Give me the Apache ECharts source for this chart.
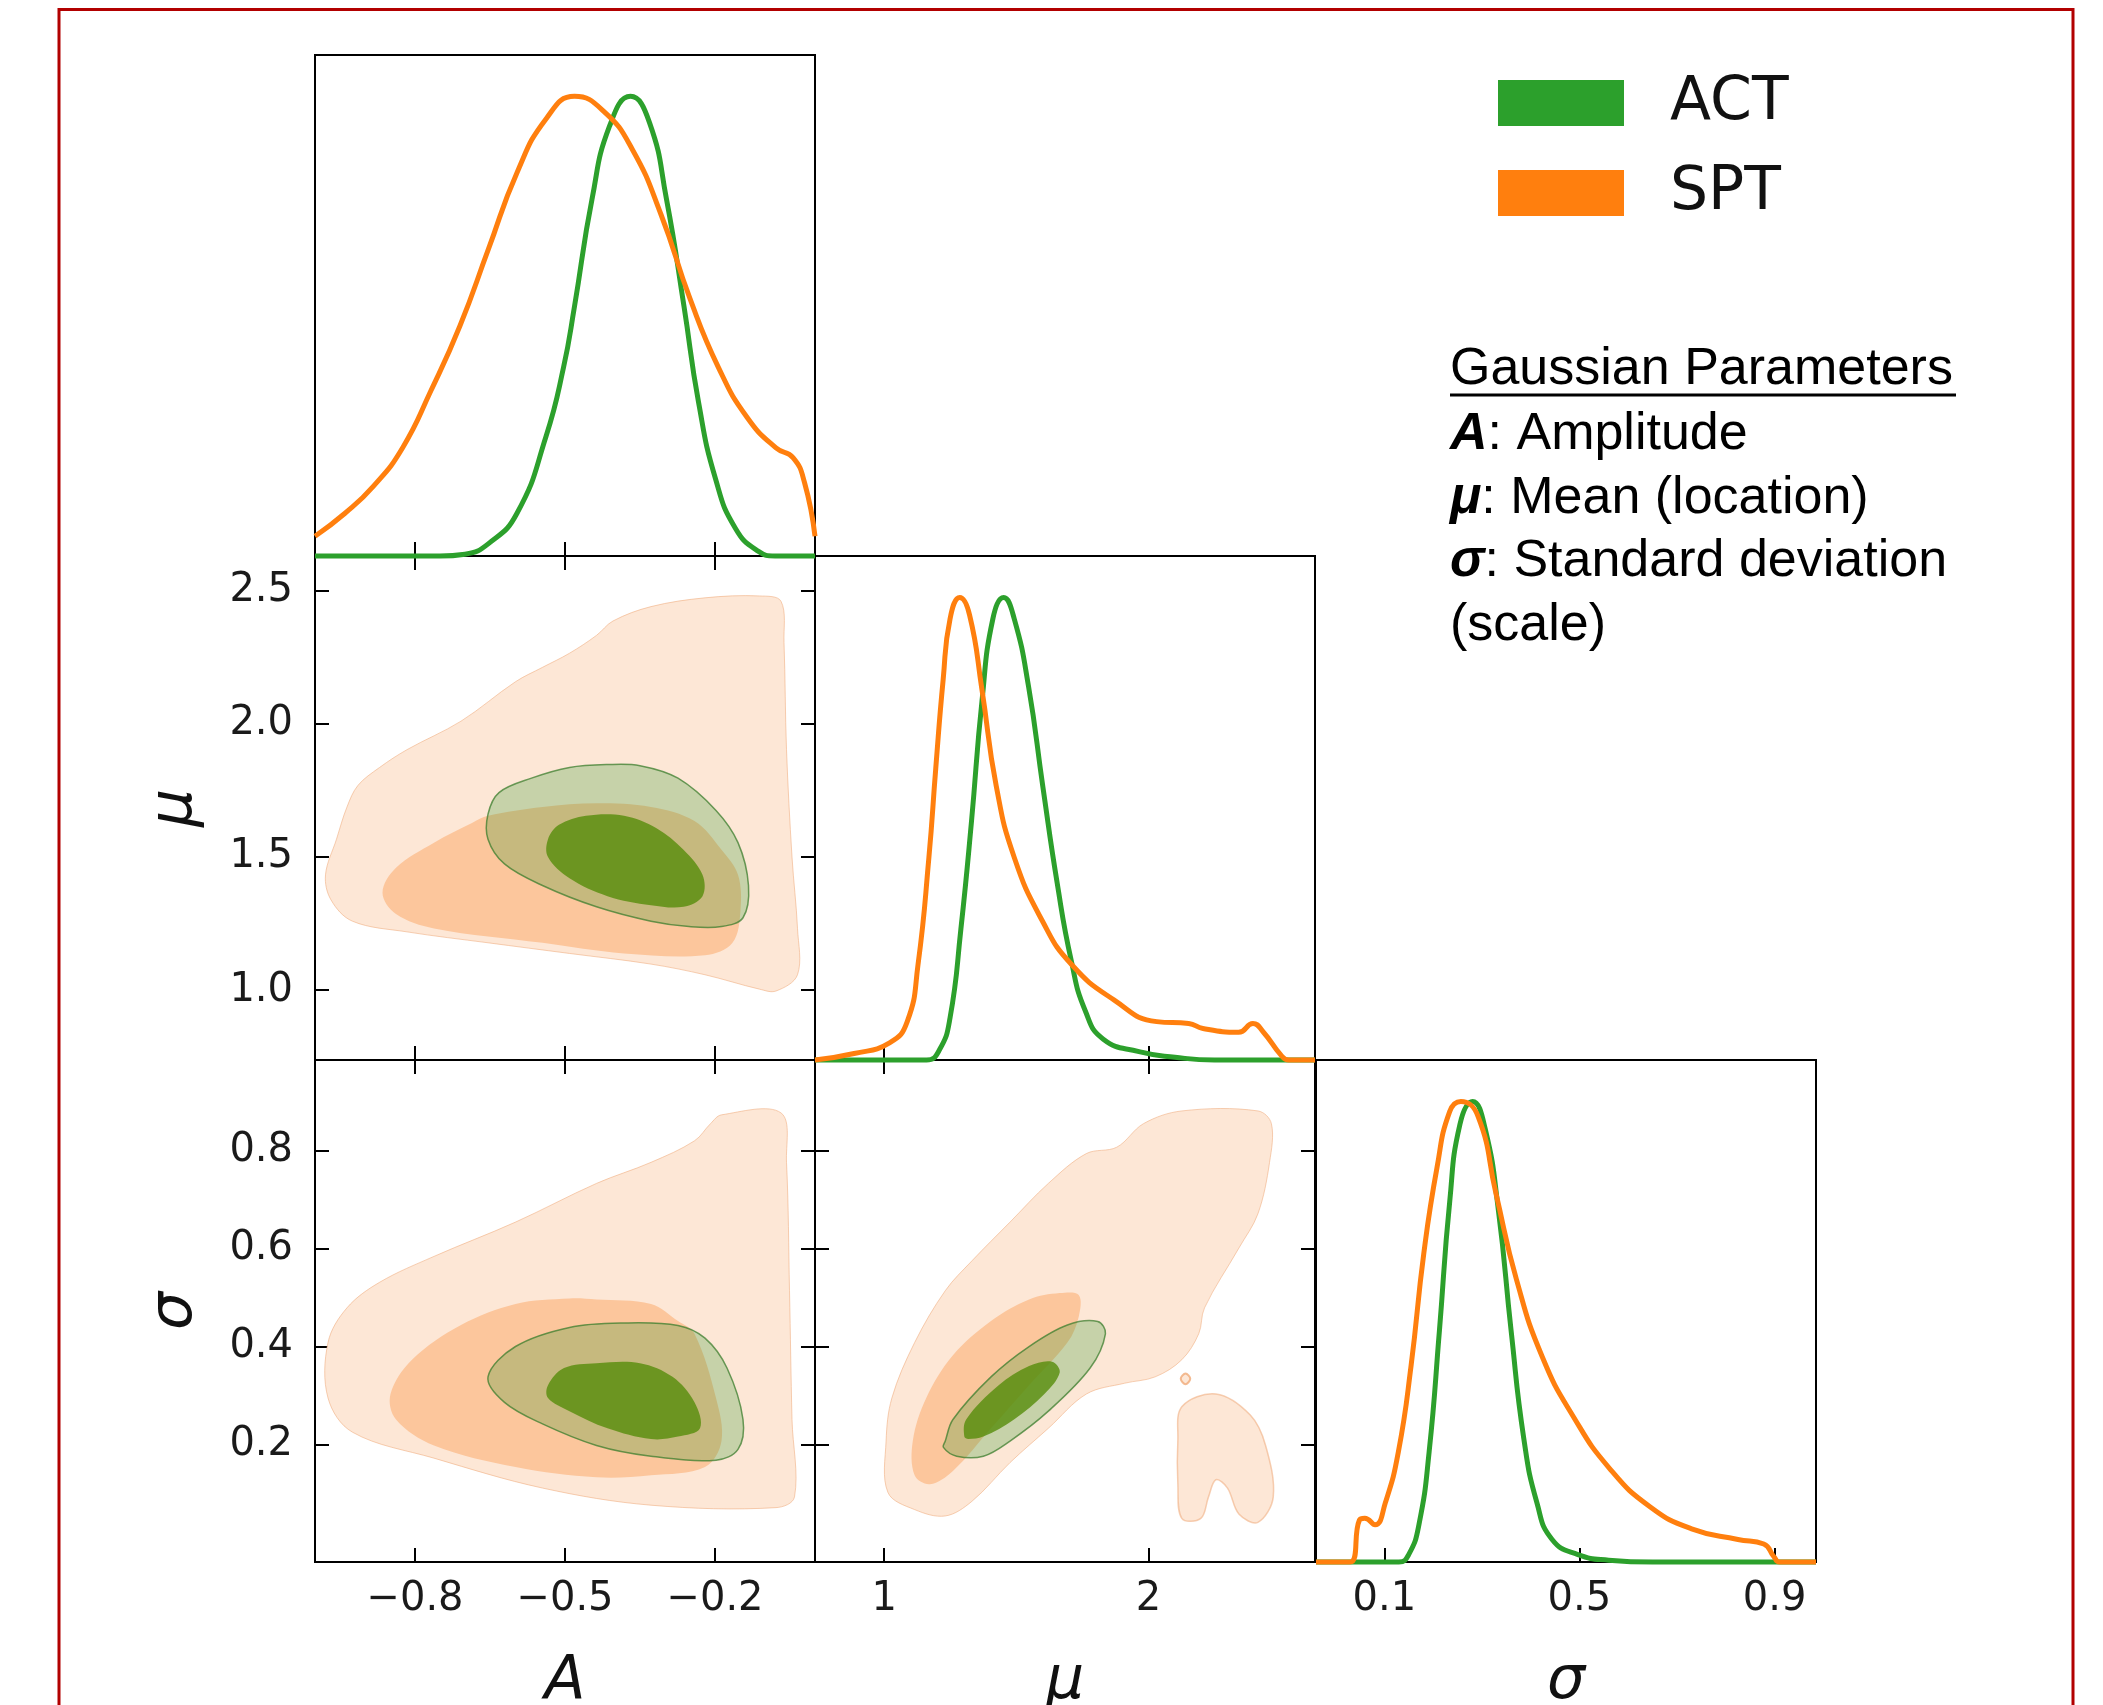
<!DOCTYPE html>
<html>
<head>
<meta charset="utf-8">
<title>ACT vs SPT - Gaussian parameters</title>
<script src="https://cdn.jsdelivr.net/npm/echarts@6/dist/echarts.min.js"></script>
<style>
html, body { margin: 0; padding: 0; background: #fff; }
#main { width: 2103px; height: 1705px; }
</style>
</head>
<body>
<div id="main"></div>
<script>
// axis ranges
var rangeA = [-1.0, 0.0];
var rangeMu = [0.738, 2.63];
var rangeSig = [-0.04, 0.985];
var rangeDens = [0, 1.09];

// ticks and their labels
var ticksA = [-0.8, -0.5, -0.2];
var labelsA = ['\u22120.8', '\u22120.5', '\u22120.2'];
var ticksMuY = [1.0, 1.5, 2.0, 2.5];
var labelsMuY = ['1.0', '1.5', '2.0', '2.5'];
var ticksMuX = [1, 2];
var labelsMuX = ['1', '2'];
var ticksSigY = [0.2, 0.4, 0.6, 0.8];
var labelsSigY = ['0.2', '0.4', '0.6', '0.8'];
var ticksSigX = [0.1, 0.5, 0.9];
var labelsSigX = ['0.1', '0.5', '0.9'];

// 1D marginals (normalised density)
var actA = [[-1, 0], [-0.75, 0], [-0.70, 0.004], [-0.653, 0.027], [-0.596, 0.093], [-0.538, 0.26], [-0.503, 0.41],
  [-0.481, 0.543], [-0.446, 0.776], [-0.411, 0.935], [-0.369, 1.0], [-0.331, 0.943], [-0.297, 0.776], [-0.262, 0.543],
  [-0.233, 0.335], [-0.199, 0.168], [-0.159, 0.06], [-0.113, 0.01], [-0.08, 0], [0, 0]];
var sptA = [[-1, 0.043], [-0.94, 0.093], [-0.883, 0.152], [-0.825, 0.235], [-0.768, 0.36], [-0.71, 0.501], [-0.653, 0.668],
  [-0.596, 0.834], [-0.538, 0.951], [-0.481, 1.0], [-0.423, 0.968], [-0.365, 0.884], [-0.308, 0.743], [-0.25, 0.56],
  [-0.193, 0.41], [-0.136, 0.302], [-0.078, 0.235], [-0.044, 0.214], [-0.021, 0.16], [0, 0.043]];
var actMu = [[0.738, 0], [1.16, 0], [1.209, 0.022], [1.249, 0.091], [1.29, 0.283], [1.33, 0.515], [1.37, 0.777], [1.411, 0.954],
  [1.452, 1.0], [1.492, 0.954], [1.546, 0.808], [1.6, 0.592], [1.654, 0.384], [1.708, 0.214], [1.761, 0.106], [1.829, 0.045],
  [1.964, 0.018], [2.1, 0.006], [2.25, 0], [2.63, 0]];
var sptMu = [[0.738, 0], [0.886, 0.014], [1.02, 0.037], [1.087, 0.083], [1.128, 0.207], [1.169, 0.438], [1.195, 0.631],
  [1.223, 0.823], [1.249, 0.954], [1.286, 1.0], [1.323, 0.962], [1.37, 0.8], [1.424, 0.592], [1.492, 0.438], [1.6, 0.299],
  [1.708, 0.207], [1.869, 0.13], [2.031, 0.083], [2.152, 0.079], [2.206, 0.068], [2.341, 0.06], [2.395, 0.079],
  [2.435, 0.06], [2.502, 0.01], [2.53, 0], [2.63, 0]];
var actSig = [[-0.04, 0], [0.13, 0], [0.15, 0.016], [0.171, 0.081], [0.192, 0.24], [0.213, 0.502], [0.234, 0.781],
  [0.255, 0.95], [0.281, 1.0], [0.307, 0.94], [0.334, 0.763], [0.36, 0.502], [0.386, 0.268], [0.413, 0.128],
  [0.444, 0.049], [0.497, 0.016], [0.56, 0.004], [0.65, 0], [0.985, 0]];
var sptSig = [[-0.04, 0], [0.03, 0], [0.049, 0.091], [0.06, 0.095], [0.081, 0.081], [0.102, 0.128], [0.129, 0.24],
  [0.155, 0.427], [0.181, 0.67], [0.208, 0.856], [0.234, 0.978], [0.257, 1.0], [0.292, 0.968], [0.329, 0.8],
  [0.371, 0.613], [0.424, 0.445], [0.488, 0.315], [0.562, 0.203], [0.646, 0.119], [0.73, 0.072], [0.825, 0.049],
  [0.878, 0.039], [0.899, 0.011], [0.91, 0], [0.985, 0]];

// 2D contours: A vs mu
var sptAMuOuter = [[-0.068, 2.46], [-0.111, 2.48], [-0.22, 2.473], [-0.328, 2.44], [-0.404, 2.386], [-0.437, 2.332],
  [-0.491, 2.265], [-0.545, 2.212], [-0.599, 2.158], [-0.708, 2.01], [-0.816, 1.903], [-0.871, 1.836], [-0.914, 1.769],
  [-0.936, 1.688], [-0.957, 1.567], [-0.979, 1.433], [-0.968, 1.339], [-0.925, 1.259], [-0.816, 1.219], [-0.654, 1.178],
  [-0.491, 1.138], [-0.328, 1.098], [-0.22, 1.058], [-0.111, 1.004], [-0.078, 0.997], [-0.035, 1.058], [-0.035, 1.232],
  [-0.046, 1.5], [-0.057, 1.903], [-0.062, 2.305]];
var sptAMuInner = [[-0.686, 1.628], [-0.762, 1.554], [-0.838, 1.46], [-0.865, 1.366], [-0.838, 1.286], [-0.762, 1.232],
  [-0.545, 1.178], [-0.382, 1.138], [-0.22, 1.131], [-0.165, 1.178], [-0.149, 1.299], [-0.154, 1.433], [-0.187, 1.527],
  [-0.241, 1.635], [-0.328, 1.688], [-0.437, 1.702], [-0.545, 1.688], [-0.654, 1.655]];
var actAMuOuter = [[-0.654, 1.661], [-0.632, 1.742], [-0.567, 1.796], [-0.491, 1.836], [-0.415, 1.847], [-0.35, 1.843],
  [-0.274, 1.796], [-0.198, 1.675], [-0.154, 1.554], [-0.133, 1.393], [-0.144, 1.272], [-0.187, 1.239], [-0.252, 1.239],
  [-0.328, 1.259], [-0.437, 1.313], [-0.545, 1.393], [-0.621, 1.474], [-0.654, 1.567]];
var actAMuInner = [[-0.534, 1.567], [-0.512, 1.621], [-0.458, 1.655], [-0.382, 1.655], [-0.317, 1.608], [-0.263, 1.527],
  [-0.225, 1.433], [-0.225, 1.353], [-0.263, 1.313], [-0.328, 1.319], [-0.415, 1.353], [-0.491, 1.42], [-0.534, 1.5]];

// 2D contours: A vs sigma
var sptASigOuter = [[-0.187, 0.873], [-0.068, 0.877], [-0.057, 0.776], [-0.051, 0.514], [-0.046, 0.251], [-0.041, 0.093],
  [-0.078, 0.071], [-0.328, 0.076], [-0.545, 0.111], [-0.762, 0.172], [-0.925, 0.225], [-0.974, 0.295], [-0.974, 0.408],
  [-0.936, 0.479], [-0.871, 0.531], [-0.762, 0.584], [-0.599, 0.654], [-0.437, 0.733], [-0.328, 0.776], [-0.241, 0.82],
  [-0.209, 0.855]];
var sptASigInner = [[-0.437, 0.496], [-0.328, 0.487], [-0.274, 0.452], [-0.241, 0.426], [-0.198, 0.295], [-0.187, 0.207],
  [-0.22, 0.154], [-0.328, 0.137], [-0.437, 0.133], [-0.599, 0.154], [-0.762, 0.198], [-0.838, 0.251], [-0.849, 0.303],
  [-0.806, 0.373], [-0.708, 0.444], [-0.599, 0.487], [-0.491, 0.498]];
var actASigOuter = [[-0.654, 0.338], [-0.599, 0.4], [-0.491, 0.439], [-0.382, 0.448], [-0.274, 0.443], [-0.22, 0.417],
  [-0.176, 0.356], [-0.144, 0.251], [-0.154, 0.19], [-0.198, 0.168], [-0.328, 0.176], [-0.437, 0.198], [-0.545, 0.242],
  [-0.621, 0.286]];
var actASigInner = [[-0.534, 0.321], [-0.502, 0.356], [-0.437, 0.366], [-0.35, 0.366], [-0.285, 0.338], [-0.241, 0.286],
  [-0.23, 0.233], [-0.274, 0.216], [-0.328, 0.211], [-0.415, 0.233], [-0.491, 0.268], [-0.534, 0.295]];

// 2D contours: mu vs sigma
var sptMuSigOuter = [[1.014, 0.102], [1.007, 0.207], [1.029, 0.295], [1.115, 0.408], [1.231, 0.514], [1.332, 0.575],
  [1.476, 0.654], [1.621, 0.733], [1.765, 0.794], [1.88, 0.807], [1.981, 0.855], [2.126, 0.881], [2.414, 0.881],
  [2.465, 0.855], [2.458, 0.776], [2.414, 0.671], [2.342, 0.601], [2.212, 0.479], [2.19, 0.426], [2.126, 0.373],
  [2.025, 0.338], [1.909, 0.325], [1.765, 0.303], [1.621, 0.233], [1.476, 0.163], [1.332, 0.084], [1.231, 0.054],
  [1.115, 0.067]];
var sptMuSigIsland = [[2.126, 0.277], [2.255, 0.303], [2.385, 0.26], [2.443, 0.198], [2.472, 0.093], [2.414, 0.041],
  [2.342, 0.058], [2.299, 0.111], [2.255, 0.128], [2.227, 0.093], [2.198, 0.049], [2.126, 0.049], [2.111, 0.12],
  [2.111, 0.207]];
var sptMuSigRing = [[2.122, 0.334], [2.14, 0.345], [2.158, 0.334], [2.14, 0.323]];
var sptMuSigInner = [[1.115, 0.137], [1.108, 0.207], [1.159, 0.295], [1.26, 0.382], [1.404, 0.452], [1.548, 0.496],
  [1.664, 0.509], [1.736, 0.505], [1.736, 0.461], [1.693, 0.408], [1.548, 0.321], [1.404, 0.233], [1.26, 0.146],
  [1.173, 0.119]];
var actMuSigOuter = [[1.231, 0.207], [1.26, 0.251], [1.404, 0.338], [1.548, 0.4], [1.693, 0.444], [1.808, 0.451],
  [1.837, 0.426], [1.779, 0.356], [1.621, 0.268], [1.476, 0.207], [1.375, 0.176], [1.274, 0.176], [1.224, 0.194]];
var actMuSigInner = [[1.303, 0.216], [1.31, 0.251], [1.433, 0.321], [1.548, 0.36], [1.635, 0.369], [1.664, 0.347],
  [1.606, 0.303], [1.491, 0.251], [1.375, 0.216], [1.318, 0.211]];

// side text
var paramTitle = 'Gaussian Parameters';
var paramSymbols = ['A', '\u03bc', '\u03c3', ''];
var paramTexts = [': Amplitude', ': Mean (location)', ': Standard deviation', '(scale)'];

var GREEN = '#2ca02c';
var ORANGE = '#ff7f0e';
var SPT_OUT = '#fde7d6';
var SPT_IN = '#fcc69c';
var ACT_OUT = 'rgba(44,150,44,0.26)';
var ACT_IN = 'rgba(85,140,10,0.8)';
var TICK_FONT = 'DejaVu Sans';

var myChart = echarts.init(document.getElementById('main'));

var colLeft = [315, 815, 1316];
var rowTop = [55, 556, 1060];
var rowH = [501, 504, 502];
var cellW = 500;

function cell(r, c) {
  return { left: colLeft[c], top: rowTop[r], width: cellW, height: rowH[r],
    show: true, borderColor: '#000', borderWidth: 2, backgroundColor: 'transparent',
    outerBoundsMode: 'none' };
}

function fmt(ticks, labels) {
  return function (v) {
    for (var i = 0; i < ticks.length; i++) {
      if (Math.abs(ticks[i] - v) < 1e-6) return labels[i];
    }
    return '';
  };
}

function axis(gridIndex, pos, range, ticks, labels, extra) {
  var a = {
    type: 'value', gridIndex: gridIndex, position: pos, min: range[0], max: range[1],
    axisLine: { show: false, onZero: false },
    splitLine: { show: false },
    axisTick: ticks ? { show: true, inside: true, length: 14, customValues: ticks,
      lineStyle: { color: '#000', width: 2 } } : { show: false },
    axisLabel: labels ? { show: true, customValues: ticks, formatter: fmt(ticks, labels),
      fontSize: 40, fontFamily: TICK_FONT, color: '#1a1a1a',
      margin: (pos === 'left' ? 22 : 18) } : { show: false }
  };
  if (extra) for (var k in extra) a[k] = extra[k];
  return a;
}

var nameStyle = { fontSize: 60, fontStyle: 'italic', fontFamily: 'DejaVu Sans', color: '#111' };

var xAxes = [
  axis(0, 'bottom', rangeA, ticksA, null),                       // 0 A marginal
  axis(1, 'bottom', rangeA, ticksA, null),                       // 1 A-mu bottom
  axis(1, 'top', rangeA, ticksA, null),                          // 2 A-mu top
  axis(2, 'bottom', rangeMu, ticksMuX, null),                    // 3 mu marginal
  axis(3, 'bottom', rangeA, ticksA, labelsA,
    { name: 'A', nameLocation: 'middle', nameGap: 90, nameTextStyle: nameStyle }),   // 4 A-sigma bottom
  axis(3, 'top', rangeA, ticksA, null),                          // 5 A-sigma top
  axis(4, 'bottom', rangeMu, ticksMuX, labelsMuX,
    { name: '\u03bc', nameLocation: 'middle', nameGap: 90, nameTextStyle: nameStyle }), // 6 mu-sigma bottom
  axis(4, 'top', rangeMu, ticksMuX, null),                       // 7 mu-sigma top
  axis(5, 'bottom', rangeSig, ticksSigX, labelsSigX,
    { name: '\u03c3', nameLocation: 'middle', nameGap: 90, nameTextStyle: nameStyle })  // 8 sigma marginal
];

var yAxes = [
  axis(0, 'left', rangeDens, null, null, { show: false }),       // 0
  axis(1, 'left', rangeMu, ticksMuY, labelsMuY,
    { name: '\u03bc', nameLocation: 'middle', nameGap: 110, nameTextStyle: nameStyle }), // 1
  axis(1, 'right', rangeMu, ticksMuY, null),                     // 2
  axis(2, 'left', rangeDens, null, null, { show: false }),       // 3
  axis(3, 'left', rangeSig, ticksSigY, labelsSigY,
    { name: '\u03c3', nameLocation: 'middle', nameGap: 110, nameTextStyle: nameStyle }), // 4
  axis(3, 'right', rangeSig, ticksSigY, null),                   // 5
  axis(4, 'left', rangeSig, ticksSigY, null),                    // 6
  axis(4, 'right', rangeSig, ticksSigY, null),                   // 7
  axis(5, 'left', rangeDens, null, null, { show: false })        // 8
];

function lineSeries(name, data, xi, yi, color) {
  return {
    type: 'line', name: name, xAxisIndex: xi, yAxisIndex: yi, data: data,
    showSymbol: false, symbol: 'none', smooth: 0.5, clip: false, silent: true,
    lineStyle: { color: color, width: 5 }, itemStyle: { color: color }, z: 3
  };
}

function polySeries(name, pts, xi, yi, fill, stroke, lw) {
  return {
    type: 'custom', name: name, xAxisIndex: xi, yAxisIndex: yi, data: pts,
    encode: { x: 0, y: 1 }, silent: true, clip: true, z: 2,
    renderItem: function (params, api) {
      if (params.dataIndex !== 0) return null;
      var points = pts.map(function (p) { return api.coord(p); });
      return {
        type: 'polygon',
        shape: { points: points, smooth: 0.35 },
        style: { fill: fill, stroke: stroke || 'none', lineWidth: lw || 0 }
      };
    }
  };
}

var sptEdge = 'rgba(240,175,130,0.6)';
var actEdge = 'rgba(60,125,45,0.75)';

var series = [
  // 1D
  lineSeries('ACT', actA, 0, 0, GREEN),
  lineSeries('SPT', sptA, 0, 0, ORANGE),
  lineSeries('ACT', actMu, 3, 3, GREEN),
  lineSeries('SPT', sptMu, 3, 3, ORANGE),
  lineSeries('ACT', actSig, 8, 8, GREEN),
  lineSeries('SPT', sptSig, 8, 8, ORANGE),
  // A - mu
  polySeries('SPT 95%', sptAMuOuter, 1, 1, SPT_OUT, sptEdge, 1),
  polySeries('SPT 68%', sptAMuInner, 1, 1, SPT_IN, null, 0),
  polySeries('ACT 95%', actAMuOuter, 1, 1, ACT_OUT, actEdge, 1.5),
  polySeries('ACT 68%', actAMuInner, 1, 1, ACT_IN, null, 0),
  // A - sigma
  polySeries('SPT 95%', sptASigOuter, 4, 4, SPT_OUT, sptEdge, 1),
  polySeries('SPT 68%', sptASigInner, 4, 4, SPT_IN, null, 0),
  polySeries('ACT 95%', actASigOuter, 4, 4, ACT_OUT, actEdge, 1.5),
  polySeries('ACT 68%', actASigInner, 4, 4, ACT_IN, null, 0),
  // mu - sigma
  polySeries('SPT 95%', sptMuSigOuter, 6, 6, SPT_OUT, sptEdge, 1),
  polySeries('SPT 95% b', sptMuSigIsland, 6, 6, SPT_OUT, sptEdge, 1.5),
  polySeries('SPT 95% c', sptMuSigRing, 6, 6, SPT_OUT, 'rgba(240,170,120,0.8)', 2),
  polySeries('SPT 68%', sptMuSigInner, 6, 6, SPT_IN, null, 0),
  polySeries('ACT 95%', actMuSigOuter, 6, 6, ACT_OUT, actEdge, 1.5),
  polySeries('ACT 68%', actMuSigInner, 6, 6, ACT_IN, null, 0)
];

var graphics = [
  { type: 'rect', silent: true, z: 100,
    shape: { x: 59, y: 9.5, width: 2014, height: 1740 },
    style: { fill: 'none', stroke: '#b20000', lineWidth: 3 } },
  { type: 'text', x: 1450, y: 370, silent: true,
    style: { text: paramTitle, fontSize: 52, fontFamily: 'Liberation Sans', fill: '#000', verticalAlign: 'middle' } },
  { type: 'line', silent: true,
    shape: { x1: 1450, y1: 395, x2: 1956, y2: 395 },
    style: { stroke: '#000', lineWidth: 3 } }
];
for (var i = 0; i < paramTexts.length; i++) {
  var txt = paramSymbols[i] ? '{b|' + paramSymbols[i] + '}' + paramTexts[i] : paramTexts[i];
  graphics.push({
    type: 'text', x: 1450, y: 435 + i * 63.5, silent: true,
    style: {
      text: txt, fontSize: 52, fontFamily: 'Liberation Sans', fill: '#000', verticalAlign: 'middle',
      rich: { b: { fontSize: 52, fontFamily: 'Liberation Sans', fontWeight: 'bold', fontStyle: 'italic', fill: '#000' } }
    }
  });
}

var option = {
  backgroundColor: '#fff',
  animation: false,
  legend: {
    data: [
      { name: 'ACT', itemStyle: { color: GREEN, borderWidth: 0 } },
      { name: 'SPT', itemStyle: { color: ORANGE, borderWidth: 0 } }
    ],
    orient: 'vertical', left: 1498, top: 73, icon: 'rect',
    itemWidth: 126, itemHeight: 46, itemGap: 30, padding: 0, selectedMode: false,
    textStyle: { fontSize: 60, fontFamily: 'DejaVu Sans', color: '#111', lineHeight: 60, padding: [0, 0, 0, 41] }
  },
  grid: [cell(0, 0), cell(1, 0), cell(1, 1), cell(2, 0), cell(2, 1), cell(2, 2)],
  xAxis: xAxes,
  yAxis: yAxes,
  series: series,
  graphic: graphics
};

myChart.setOption(option);

window.onresize = function () {
  myChart.resize();
};
</script>
</body>
</html>
